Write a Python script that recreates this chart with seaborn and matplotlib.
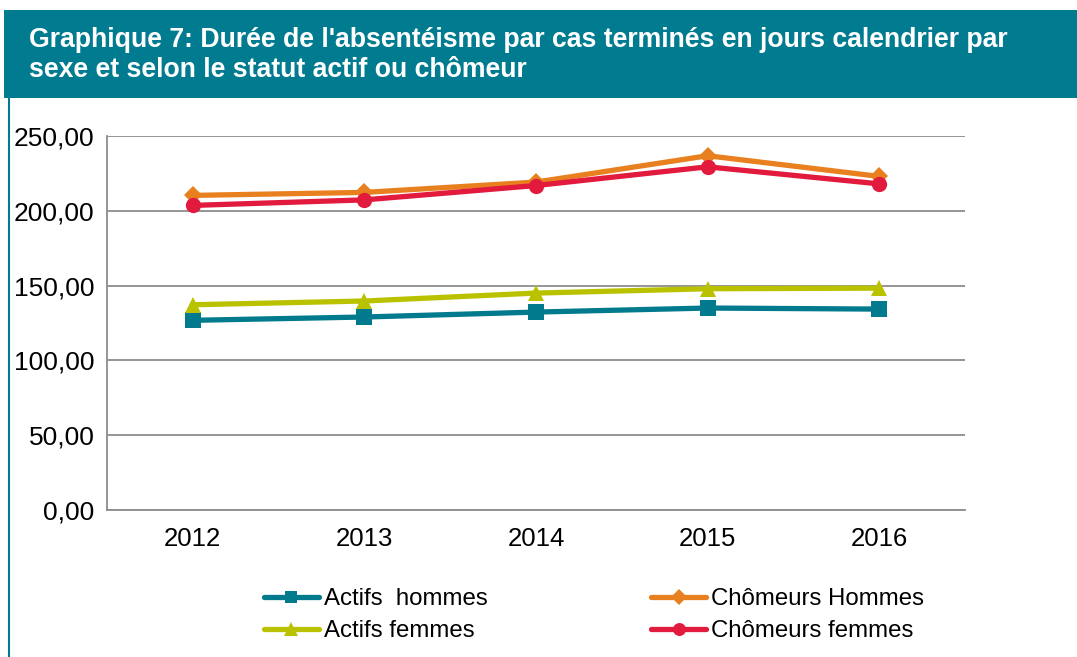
import pandas as pd
import numpy as np
import seaborn as sns
import matplotlib.pyplot as plt
from matplotlib.patches import Rectangle
from matplotlib.lines import Line2D
from matplotlib.ticker import FuncFormatter, FixedLocator

years = ['2012', '2013', '2014', '2015', '2016']
actifs_hommes = [126.8, 129.0, 132.3, 135.0, 134.3]
actifs_femmes = [137.2, 139.7, 145.0, 147.9, 148.3]
chomeurs_hommes = [210.3, 212.3, 219.2, 236.8, 223.0]
chomeurs_femmes = [203.6, 207.3, 216.9, 229.4, 218.0]

series_names = ['Actifs  hommes', 'Actifs femmes', 'Chômeurs Hommes', 'Chômeurs femmes']
series_values = [actifs_hommes, actifs_femmes, chomeurs_hommes, chomeurs_femmes]
colors = ['#007A8C', '#BAC200', '#E8801F', '#E21A3E']
markers = ['s', '^', 'D', 'o']
msizes = [11, 12, 9, 11]

title = "Graphique 7: Durée de l'absentéisme par cas terminés en jours calendrier par\nsexe et selon le statut actif ou chômeur"

sns.set_style('white')
plt.rcParams['font.family'] = 'sans-serif'
plt.rcParams['font.sans-serif'] = ['Liberation Sans', 'DejaVu Sans']
plt.rcParams['text.color'] = 'black'
plt.rcParams['xtick.labelcolor'] = 'black'
plt.rcParams['ytick.labelcolor'] = 'black'

fig = plt.figure(figsize=(10.77, 6.57), dpi=100)
ax = fig.add_axes([107 / 1077, 1 - 510 / 657, 858 / 1077, 374 / 657])

rows = []
for name, vals in zip(series_names, series_values):
    for i, v in enumerate(vals):
        rows.append({'pos': i, 'year': years[i], 'value': v, 'serie': name})
df = pd.DataFrame(rows)

handles = []
for name, col, mk, ms in zip(series_names, colors, markers, msizes):
    sub = df[df['serie'] == name]
    sns.lineplot(data=sub, x='pos', y='value', color=col, marker=mk, markersize=ms,
                 markeredgewidth=0, linewidth=3.8, ax=ax, legend=False)
    handles.append(Line2D([0], [0], color=col, marker=mk, markersize=ms * 0.85,
                          markeredgewidth=0, linewidth=3.8, label=name))

ax.set_xlim(-0.5, 4.5)
ax.set_ylim(0, 250)
ax.set_yticks(np.arange(0, 251, 50))
ax.yaxis.set_major_formatter(FuncFormatter(lambda v, p: '{:.2f}'.format(v).replace('.', ',')))
ax.set_xticks(range(len(years)))
ax.set_xticklabels(years)
ax.xaxis.set_minor_locator(FixedLocator(np.arange(-0.5, 4.6, 1)))
ax.tick_params(axis='x', which='major', length=0, labelsize=18.5, pad=12)
ax.tick_params(axis='x', which='minor', length=6, color='#888888', width=1.3, direction='out')
ax.tick_params(axis='y', length=6, color='#888888', width=1.3, direction='out', labelsize=19, pad=3)
ax.yaxis.grid(True, color='#8C8C8C', linewidth=1.3)
ax.set_axisbelow(True)
for s in ['top', 'right']:
    ax.spines[s].set_visible(False)
for s in ['left', 'bottom']:
    ax.spines[s].set_color('#8C8C8C')
    ax.spines[s].set_linewidth(1.3)
ax.set_xlabel('')
ax.set_ylabel('')

# header band and left border
fig.patches.append(Rectangle((4 / 1077, 1 - 98 / 657), 1, 88 / 657, transform=fig.transFigure,
                             facecolor='#007B8F', edgecolor='none', zorder=0))
fig.lines.append(Line2D([8.5 / 1077, 8.5 / 1077], [0, 1 - 98 / 657], transform=fig.transFigure,
                        color='#007B8F', linewidth=1.5))
fig.text(29 / 1077, 1 - 55 / 657, title, color='white', fontsize=19.2, fontweight='bold',
         va='center', ha='left', linespacing=1.2)

leg = fig.legend(handles=handles, ncol=2, loc='center', bbox_to_anchor=(594 / 1077, 1 - 615 / 657),
                 frameon=False, fontsize=17.3, handlelength=2.3, handletextpad=0.2,
                 columnspacing=6.8, labelspacing=0.42)

plt.savefig('out.png', dpi=100)
